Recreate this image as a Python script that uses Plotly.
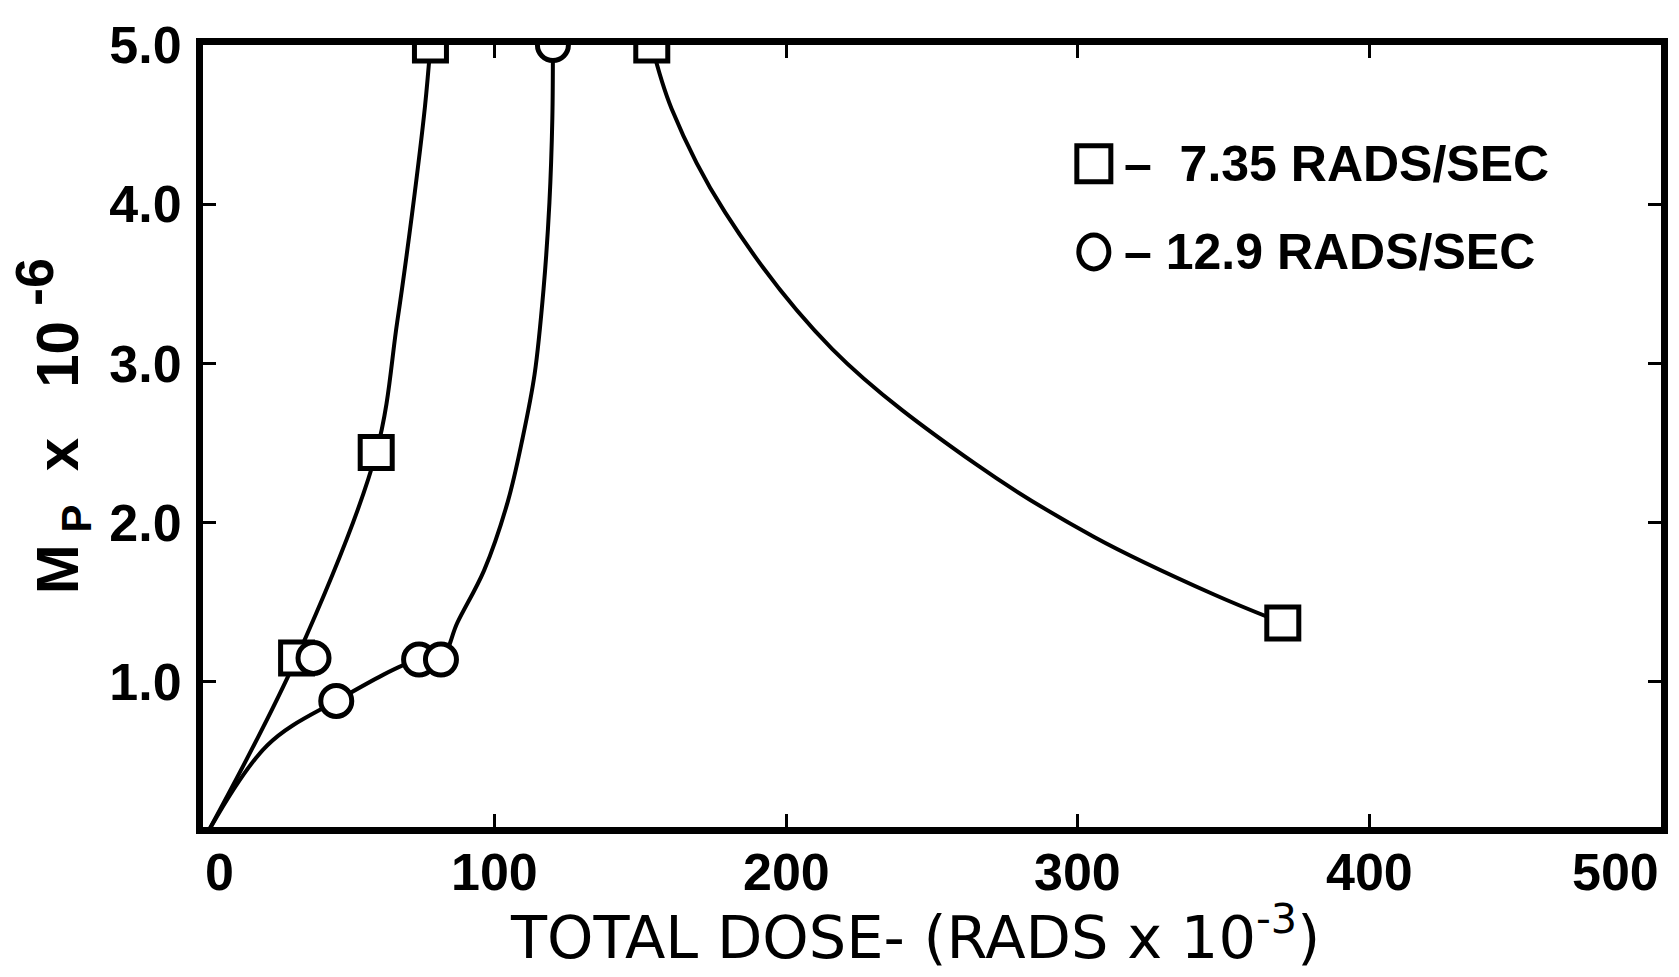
import plotly.graph_objects as go

# Measured points, 7.35 rads/sec (squares)
sq_x = [32.1, 59.4, 78.0, 153.9, 370.3]
sq_y = [1.15, 2.44, 5.0, 5.0, 1.37]

# Measured points, 12.9 rads/sec (circles)
ci_x = [37.9, 45.7, 74.1, 81.6, 120.0]
ci_y = [1.15, 0.88, 1.14, 1.14, 5.0]

# Hand-drawn curves through the data
sq_rise_x = [0.0, 32.1, 59.4, 66.6, 71.7, 76.1, 78.0]
sq_rise_y = [0.0, 1.15, 2.44, 3.26, 3.94, 4.61, 5.0]

sq_fall_x = [153.9, 160.7, 179.0, 215.8, 264.8, 305.6, 346.5, 370.3]
sq_fall_y = [5.0, 4.60, 3.95, 3.09, 2.37, 1.91, 1.55, 1.37]

ci_curve_x = [0.0, 22.0, 45.7, 74.1, 81.6, 87.2, 96.4, 104.5,
              109.6, 113.7, 116.8, 118.8, 119.8, 120.0]
ci_curve_y = [0.0, 0.60, 0.88, 1.14, 1.14, 1.37, 1.70, 2.13,
              2.53, 2.93, 3.47, 4.01, 4.54, 5.0]

# Axes
x_ticks = [0, 100, 200, 300, 400, 500]
x_tick_text = ["0", "100", "200", "300", "400", "500"]
y_ticks = [1, 2, 3, 4, 5]
y_tick_text = ["1.0", "2.0", "3.0", "4.0", "5.0"]

legend_labels = ["–\u00a0\u00a07.35 RADS/SEC", "–\u00a012.9 RADS/SEC"]

BOLD = "Liberation Sans"

fig = go.Figure()

for cx, cy in [(sq_rise_x, sq_rise_y), (sq_fall_x, sq_fall_y), (ci_curve_x, ci_curve_y)]:
    fig.add_trace(go.Scatter(x=cx, y=cy, mode="lines",
                             line=dict(color="black", width=4, shape="spline", smoothing=1.0),
                             hoverinfo="skip", showlegend=False))

fig.add_trace(go.Scatter(x=sq_x, y=sq_y, mode="markers", name="7.35 RADS/SEC",
                         marker=dict(symbol="square", size=32, color="white",
                                     line=dict(color="black", width=5)),
                         showlegend=False))
fig.add_trace(go.Scatter(x=ci_x, y=ci_y, mode="markers", name="12.9 RADS/SEC",
                         marker=dict(symbol="circle", size=31, color="white",
                                     line=dict(color="black", width=5)),
                         showlegend=False))

axis_common = dict(showline=True, linecolor="black", linewidth=7, mirror="ticks",
                   ticks="inside", ticklen=13, tickwidth=3, tickcolor="black",
                   showgrid=False, zeroline=False)

fig.update_xaxes(range=[0, 500], tickvals=x_ticks, showticklabels=False, **axis_common)
fig.update_yaxes(range=[0.088, 5.0], tickvals=y_ticks, ticktext=y_tick_text,
                 tickfont=dict(family=BOLD, size=52, color="black", weight="bold"),
                 ticklabelstandoff=4, **axis_common)

annotations = []
for v, t in zip(x_ticks, x_tick_text):
    anchor = "left" if v == x_ticks[0] else ("right" if v == x_ticks[-1] else "center")
    annotations.append(dict(x=v, xref="x", y=0, yref="paper", yanchor="top", xanchor=anchor,
                            yshift=-14, text=t, showarrow=False,
                            font=dict(family=BOLD, size=52, color="black", weight="bold")))

annotations.append(dict(x=0.488, xref="paper", y=0, yref="paper", yanchor="top",
                        xanchor="center", yshift=-66, showarrow=False,
                        text="TOTAL DOSE-\u00a0(RADS x 10<sup>-3</sup>)",
                        font=dict(family="DejaVu Sans", size=59, color="black")))

annotations.append(dict(x=-0.1035, xref="paper", y=0.5127, yref="paper", textangle=-90,
                        xanchor="center", yanchor="middle", showarrow=False,
                        text=("M<sub>\u00a0P</sub>\u00a0\u00a0x\u00a0\u00a0\u00a010"
                              "<sup><span style='font-size:54px'>\u00a0-6</span></sup>"),
                        font=dict(family=BOLD, size=60, color="black", weight="bold")))

for i, lab in enumerate(legend_labels):
    annotations.append(dict(x=0.630, xref="paper", y=[0.8481, 0.7354][i], yref="paper",
                            xanchor="left", yanchor="middle", showarrow=False, text=lab,
                            font=dict(family=BOLD, size=50, color="black", weight="bold")))

shapes = [
    dict(type="rect", xref="paper", yref="paper", xsizemode="pixel", ysizemode="pixel",
         xanchor=0.611, yanchor=0.8481, x0=-17, x1=17, y0=-18, y1=18,
         line=dict(color="black", width=5), fillcolor="white"),
    dict(type="circle", xref="paper", yref="paper", xsizemode="pixel", ysizemode="pixel",
         xanchor=0.611, yanchor=0.7354, x0=-15, x1=15, y0=-17, y1=17,
         line=dict(color="black", width=5), fillcolor="white"),
]

fig.update_layout(width=1679, height=977, margin=dict(l=203, r=11, t=45, b=150, pad=0),
                  paper_bgcolor="white", plot_bgcolor="white",
                  annotations=annotations, shapes=shapes, showlegend=False)

fig.write_html("out.html")
